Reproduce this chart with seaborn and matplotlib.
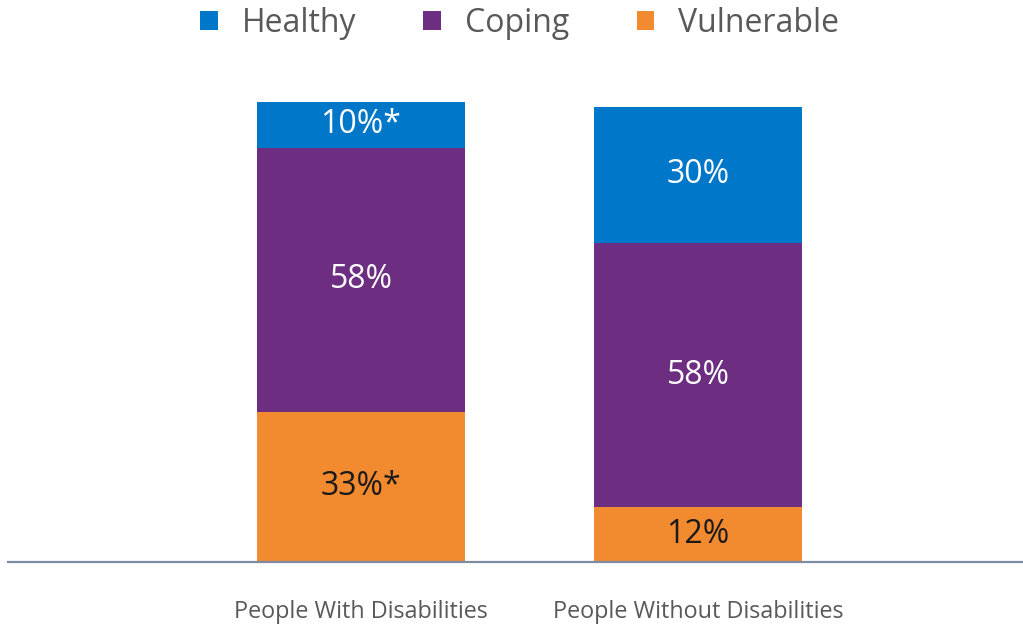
import pandas as pd
import numpy as np
import matplotlib
matplotlib.use("Agg")
import matplotlib.pyplot as plt
import seaborn as sns

groups = ["People With Disabilities", "People Without Disabilities"]
vulnerable = [33, 12]
coping = [58, 58]
healthy = [10, 30]
vulnerable_labels = ["33%*", "12%"]
coping_labels = ["58%", "58%"]
healthy_labels = ["10%*", "30%"]

sns.set_style("white")
plt.rcParams["font.family"] = ["Open Sans", "DejaVu Sans"]

fig = plt.figure(figsize=(10.23, 6.25), dpi=100)
ax = fig.add_axes([8 / 1023, 63 / 625, 1015 / 1023, 460 / 625])

layers = [
    ("Vulnerable", vulnerable, vulnerable_labels, "#F28A30", "#1a1a1a"),
    ("Coping", coping, coping_labels, "#6D2E82", "white"),
    ("Healthy", healthy, healthy_labels, "#0077C8", "white"),
]

bottom = np.zeros(len(groups))
for name, vals, labels, color, tcolor in layers:
    df = pd.DataFrame({"group": groups, "value": vals})
    sns.barplot(data=df, x="group", y="value", color=color, width=0.617,
                saturation=1, bottom=bottom, ax=ax, label=name,
                edgecolor="none")
    for i, (v, lab) in enumerate(zip(vals, labels)):
        ax.text(i, bottom[i] + v / 2, lab, ha="center", va="center",
                color=tcolor, fontsize=23)
    bottom = bottom + np.array(vals)

if ax.get_legend() is not None:
    ax.get_legend().remove()

ax.set_xlim(-1.047, 1.964)
ax.set_ylim(0, 101)
ax.set_xlabel("")
ax.set_ylabel("")
ax.set_yticks([])
for s in ["top", "left", "right"]:
    ax.spines[s].set_visible(False)
ax.spines["bottom"].set_color("#7D8CA3")
ax.spines["bottom"].set_linewidth(1.6)
ax.tick_params(axis="x", length=0, pad=27, labelsize=16.8, labelcolor="#595959")

h, l = ax.get_legend_handles_labels()
order = [l.index("Healthy"), l.index("Coping"), l.index("Vulnerable")]
fig.legend([h[i] for i in order], [l[i] for i in order], loc="upper center",
           bbox_to_anchor=(0.508, 1.035), ncol=3, frameon=False, fontsize=23,
           labelcolor="#595959", handlelength=0.56, handleheight=0.56,
           handletextpad=0.75, columnspacing=2.1)

fig.savefig("out.png", dpi=100)
